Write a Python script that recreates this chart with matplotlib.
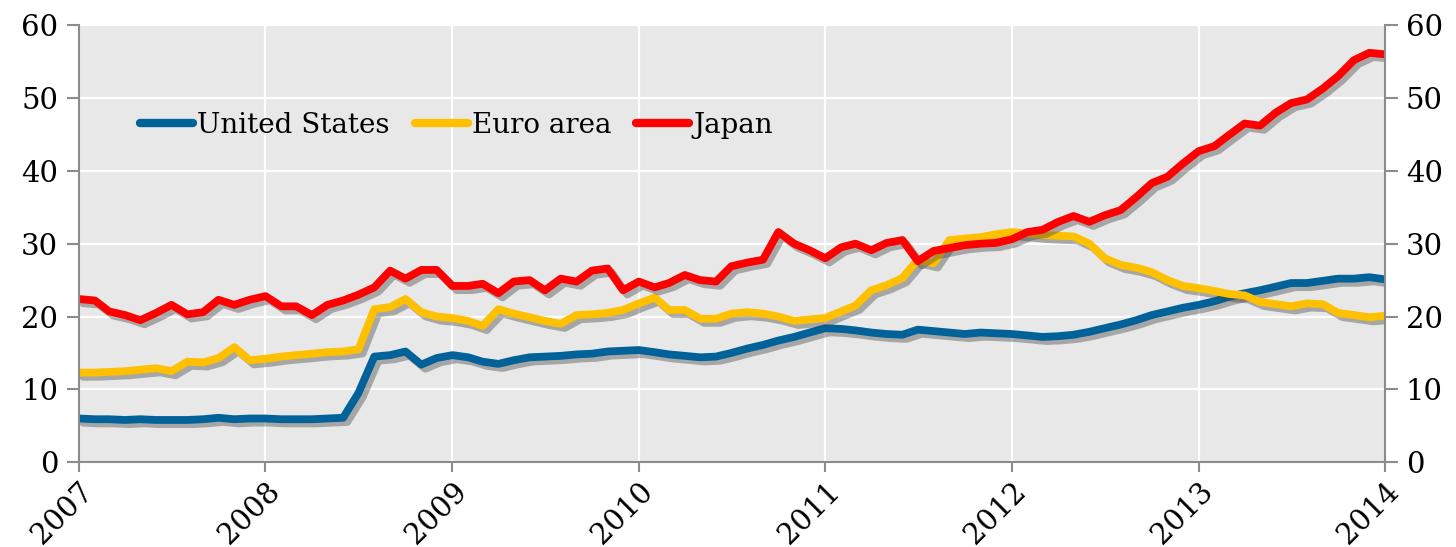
import numpy as np
import pandas as pd
import matplotlib
matplotlib.use("Agg")
import matplotlib.pyplot as plt
import matplotlib.dates as mdates
import matplotlib.patheffects as pe

# monthly readings, Jan 2007 .. Jan 2014
dates = pd.date_range("2007-01-01", "2014-01-01", freq="MS")

united_states = [
    6.0, 5.9, 5.9, 5.8, 5.9, 5.8, 5.8, 5.8, 5.9, 6.1, 5.9, 6.0,
    6.0, 5.9, 5.9, 5.9, 6.0, 6.1, 9.5, 14.5, 14.7, 15.2, 13.4, 14.3,
    14.7, 14.4, 13.8, 13.5, 14.0, 14.4, 14.5, 14.6, 14.8, 14.9, 15.2, 15.3,
    15.4, 15.1, 14.8, 14.6, 14.4, 14.5, 15.0, 15.6, 16.1, 16.7, 17.2, 17.8,
    18.4, 18.3, 18.1, 17.8, 17.6, 17.5, 18.2, 18.0, 17.8, 17.6, 17.8, 17.7,
    17.6, 17.4, 17.2, 17.3, 17.5, 17.9, 18.4, 18.9, 19.5, 20.2, 20.7, 21.2,
    21.6, 22.1, 22.7, 23.2, 23.6, 24.1, 24.6, 24.6, 24.9, 25.2, 25.2, 25.4,
    25.1,
]
euro_area = [
    12.3, 12.3, 12.4, 12.5, 12.7, 12.9, 12.5, 13.8, 13.7, 14.3, 15.8, 14.0,
    14.2, 14.5, 14.7, 14.9, 15.1, 15.2, 15.5, 21.0, 21.3, 22.4, 20.6, 20.0,
    19.8, 19.4, 18.7, 21.0, 20.4, 19.9, 19.4, 19.0, 20.2, 20.3, 20.5, 20.9,
    21.8, 22.6, 20.9, 20.9, 19.7, 19.7, 20.4, 20.6, 20.4, 20.0, 19.4, 19.6,
    19.8, 20.7, 21.5, 23.6, 24.3, 25.3, 27.8, 27.3, 30.5, 30.7, 30.9, 31.3,
    31.6, 31.4, 31.2, 31.1, 31.0, 30.0, 28.0, 27.1, 26.7, 26.1, 25.0, 24.2,
    23.9, 23.5, 23.1, 22.9, 22.0, 21.7, 21.4, 21.8, 21.7, 20.5, 20.2, 19.9,
    20.1,
]
japan = [
    22.4, 22.2, 20.7, 20.2, 19.5, 20.5, 21.6, 20.3, 20.6, 22.3, 21.6, 22.3,
    22.8, 21.4, 21.4, 20.2, 21.6, 22.2, 23.0, 24.0, 26.3, 25.2, 26.4, 26.4,
    24.2, 24.2, 24.5, 23.2, 24.8, 25.0, 23.6, 25.2, 24.8, 26.3, 26.6, 23.6,
    24.8, 24.0, 24.6, 25.7, 25.0, 24.8, 26.9, 27.4, 27.8, 31.6, 30.0, 29.1,
    28.0, 29.5, 30.0, 29.1, 30.1, 30.5, 27.6, 29.0, 29.4, 29.8, 30.0, 30.1,
    30.6, 31.6, 31.9, 33.0, 33.8, 33.0, 33.9, 34.6, 36.4, 38.3, 39.2, 41.0,
    42.7, 43.4, 44.9, 46.5, 46.2, 48.0, 49.3, 49.8, 51.3, 53.0, 55.2, 56.2,
    56.0,
]

series = [
    ("United States", united_states, "#006298"),
    ("Euro area", euro_area, "#FFC000"),
    ("Japan", japan, "#FF0000"),
]

plt.rcParams["font.family"] = ["DejaVu Serif"]

fig = plt.figure(figsize=(14.56, 5.47), dpi=100)
ax = fig.add_axes([0.0543, 0.155, 0.8970, 0.799])
ax.set_facecolor("#E8E8E8")

shadow = [pe.SimpleLineShadow(offset=(3, -3), shadow_color="#444444", alpha=0.4),
          pe.Normal()]
for name, vals, col in series:
    ax.plot(dates, vals, color=col, lw=5.6, label=name,
            solid_joinstyle="round", solid_capstyle="round", path_effects=shadow)

ax.set_xlim(pd.Timestamp("2007-01-01"), pd.Timestamp("2014-01-01"))
ax.set_ylim(0, 60)
ax.set_yticks(np.arange(0, 61, 10))
ax.xaxis.set_major_locator(mdates.YearLocator())
ax.xaxis.set_major_formatter(mdates.DateFormatter("%Y"))
ax.grid(True, color="white", lw=1.6)
ax.set_axisbelow(True)

ax.spines["top"].set_visible(False)
for s in ["left", "right", "bottom"]:
    ax.spines[s].set_color("#8c8c8c")
    ax.spines[s].set_linewidth(1.5)

ax.tick_params(axis="y", labelsize=21, length=9, color="#8c8c8c", width=1.5,
               left=True, right=True, labelleft=True, labelright=True, pad=6)
ax.tick_params(axis="x", labelsize=21, length=7, color="#8c8c8c", width=1.5, pad=4)
for lbl in ax.get_xticklabels():
    lbl.set_rotation(45)
    lbl.set_ha("right")
    lbl.set_rotation_mode("anchor")

leg = ax.legend(loc="center left", bbox_to_anchor=(0.047, 0.77), ncol=3,
                frameon=False, fontsize=20, handlelength=1.9, handletextpad=0.15,
                columnspacing=0.9, borderpad=0, borderaxespad=0)
for h in leg.get_lines():
    h.set_linewidth(6)
    h.set_path_effects([])

fig.savefig("out.png", dpi=100)
